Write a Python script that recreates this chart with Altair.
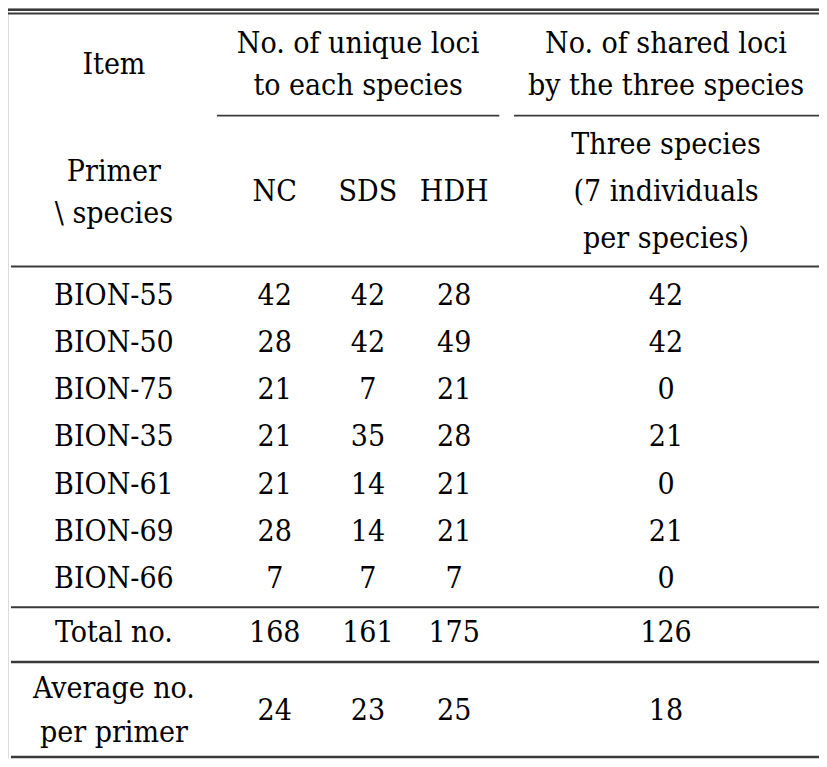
import altair as alt
import pandas as pd

# ---- table values ----
primers = ["BION-55", "BION-50", "BION-75", "BION-35", "BION-61", "BION-69", "BION-66"]
nc_unique = [42, 28, 21, 21, 21, 28, 7]
sds_unique = [42, 42, 7, 35, 14, 14, 7]
hdh_unique = [28, 49, 21, 28, 21, 21, 7]
shared_loci = [42, 42, 0, 21, 0, 21, 0]
totals = [168, 161, 175, 126]
averages = [24, 23, 25, 18]
species = ["NC", "SDS", "HDH"]

# ---- layout (reference pixel coordinates of an 827 x 767 page) ----
REF_W, REF_H = 827, 767
COL_X = {"item": 108, "NC": 272, "SDS": 367, "HDH": 455, "shared": 671}
UNIQUE_X = 357
ROW0_Y, ROW_STEP = 294, 48.2
FONT = "DejaVu Serif Condensed"
SIZE = 30

texts = []
def put(label, x, y):
    texts.append({"label": str(label), "x": x, "y": y})

# header
put("Item", COL_X["item"], 58)
put("No. of unique loci", UNIQUE_X, 37)
put("to each species", UNIQUE_X, 80)
put("No. of shared loci", COL_X["shared"], 37)
put("by the three species", COL_X["shared"], 80)
put("Primer", COL_X["item"], 168)
put("\\ species", COL_X["item"], 210)
for sp in species:
    put(sp, COL_X[sp], 188)
put("Three species", COL_X["shared"], 140)
put("(7 individuals", COL_X["shared"], 188)
put("per species)", COL_X["shared"], 236)

# body
for i, p in enumerate(primers):
    y = ROW0_Y + i * ROW_STEP
    put(p, COL_X["item"], y)
    put(nc_unique[i], COL_X["NC"], y)
    put(sds_unique[i], COL_X["SDS"], y)
    put(hdh_unique[i], COL_X["HDH"], y)
    put(shared_loci[i], COL_X["shared"], y)

put("Total no.", COL_X["item"], 638)
for v, c in zip(totals, ["NC", "SDS", "HDH", "shared"]):
    put(v, COL_X[c], 638)
put("Average no.", COL_X["item"], 696)
put("per primer", COL_X["item"], 740)
for v, c in zip(averages, ["NC", "SDS", "HDH", "shared"]):
    put(v, COL_X[c], 718)

text_df = pd.DataFrame(texts)

thick_rules = pd.DataFrame([
    {"x": 0, "x2": 827, "y": 1.8},
    {"x": 3, "x2": 827, "y": 668},
    {"x": 3, "x2": 827, "y": 765},
])
thin_rules = pd.DataFrame([
    {"x": 0, "x2": 827, "y": 5.6},
    {"x": 213, "x2": 501, "y": 110},
    {"x": 516, "x2": 827, "y": 110},
    {"x": 3, "x2": 827, "y": 264},
    {"x": 3, "x2": 827, "y": 612},
])

xs = alt.Scale(domain=[0, REF_W], nice=False, zero=False)
ys = alt.Scale(domain=[0, REF_H], nice=False, zero=False, reverse=True)

txt = alt.Chart(text_df).mark_text(
    font=FONT, fontSize=SIZE, color="#000000", align="center", baseline="middle"
).encode(
    x=alt.X("x:Q", scale=xs, axis=None),
    y=alt.Y("y:Q", scale=ys, axis=None),
    text="label:N",
)

r_thick = alt.Chart(thick_rules).mark_rule(color="#3a3a3a", strokeWidth=2.6).encode(
    x=alt.X("x:Q", scale=xs, axis=None),
    x2="x2:Q",
    y=alt.Y("y:Q", scale=ys, axis=None),
)
r_thin = alt.Chart(thin_rules).mark_rule(color="#3a3a3a", strokeWidth=1.8).encode(
    x=alt.X("x:Q", scale=xs, axis=None),
    x2="x2:Q",
    y=alt.Y("y:Q", scale=ys, axis=None),
)

chart = alt.layer(r_thick, r_thin, txt).properties(
    width=811, height=751, padding=0,
    autosize=alt.AutoSizeParams(type="none"),
).configure_view(stroke=None).configure(background="white")

chart.save("out.html", embed_options={"renderer": "svg", "actions": False})
